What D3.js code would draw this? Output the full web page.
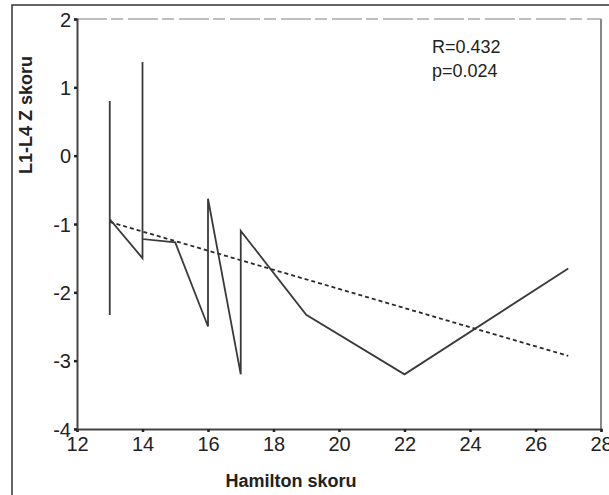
<!DOCTYPE html>
<html>
<head>
<meta charset="utf-8">
<script src="https://cdn.jsdelivr.net/npm/d3@7"></script>
<style>
  body { margin: 0; background: #fff; }
  text { font-family: "Liberation Sans", Arial, Helvetica, sans-serif; fill: #222; }
</style>
</head>
<body>
<script>
// ---- data ----
var hamilton = [13, 13, 13, 14, 14, 14, 15, 16, 16, 17, 17, 19, 22, 27];
var zScore   = [0.8, -2.33, -0.93, -1.5, 1.37, -1.22, -1.27, -2.5, -0.63, -3.2, -1.1, -2.33, -3.2, -1.65];
var fitX = [13, 27];
var fitY = [-0.97, -2.93];
var xTicks = [12, 14, 16, 18, 20, 22, 24, 26, 28];
var yTicks = [2, 1, 0, -1, -2, -3, -4];
var statLines = ["R=0.432", "p=0.024"];

var W = 609, H = 495;
var plotLeft = 77, plotRight = 601, plotTop = 19, plotBottom = 429;

var svg = d3.select("body").append("svg")
    .attr("width", W).attr("height", H);

// outer frame (top + left visible)
svg.append("path")
    .attr("d", "M12," + H + "V5H" + W)
    .attr("fill", "none").attr("stroke", "#333").attr("stroke-width", 1.5);

var x = d3.scaleLinear().domain([12, 28]).range([plotLeft, plotRight]);
var y = d3.scaleLinear().domain([-4, 2]).range([plotBottom, plotTop]);

// top + right plot borders (faint in the scan)
svg.append("line")
    .attr("x1", plotLeft).attr("x2", plotRight).attr("y1", plotTop).attr("y2", plotTop)
    .attr("stroke", "#aaa").attr("stroke-width", 1.5)
    .attr("stroke-dasharray", "30,4,12,5");
svg.append("line")
    .attr("x1", plotRight).attr("x2", plotRight).attr("y1", plotTop).attr("y2", plotBottom)
    .attr("stroke", "#888").attr("stroke-width", 2);

var xAxis = svg.append("g")
    .attr("transform", "translate(0," + plotBottom + ")")
    .call(d3.axisBottom(x).tickValues(xTicks).tickSize(3).tickPadding(5));
var yAxis = svg.append("g")
    .attr("transform", "translate(" + plotLeft + ",0)")
    .call(d3.axisLeft(y).tickValues(yTicks).tickSize(3).tickPadding(3)
        .tickFormat(function(d) { return d; }));

[xAxis, yAxis].forEach(function(g) {
    g.attr("font-size", null).attr("font-family", null);
    g.select(".domain").attr("stroke", "#444").attr("stroke-width", 2);
    g.selectAll(".tick line").attr("stroke", "#222").attr("stroke-width", 2.5);
    g.selectAll(".tick text")
        .style("font-size", "20px").attr("fill", "#222");
});
yAxis.selectAll(".tick text").attr("dy", "0.36em");

// regression line (dotted)
svg.append("line")
    .attr("x1", x(fitX[0])).attr("y1", y(fitY[0]))
    .attr("x2", x(fitX[1])).attr("y2", y(fitY[1]))
    .attr("stroke", "#2a2a2a").attr("stroke-width", 1.8)
    .attr("stroke-dasharray", "4,3");

// data line
var pts = hamilton.map(function(h, i) { return [h, zScore[i]]; });
var line = d3.line()
    .x(function(d) { return x(d[0]); })
    .y(function(d) { return y(d[1]); });
svg.append("path")
    .datum(pts)
    .attr("d", line)
    .attr("fill", "none")
    .attr("stroke", "#3a3a3a")
    .attr("stroke-width", 1.8)
    .attr("stroke-linejoin", "miter");

// stats annotation
svg.selectAll(".stat")
    .data(statLines)
    .enter().append("text")
    .attr("class", "stat")
    .attr("x", 432)
    .attr("y", function(d, i) { return 53 + i * 24; })
    .style("font-size", "18px")
    .text(function(d) { return d; });

// axis titles
svg.append("text")
    .attr("x", 291).attr("y", 487)
    .attr("text-anchor", "middle")
    .style("font-size", "18px").style("font-weight", "bold")
    .text("Hamilton skoru");

svg.append("text")
    .attr("transform", "translate(32,115) rotate(-90)")
    .attr("text-anchor", "middle")
    .style("font-size", "18px").style("font-weight", "bold")
    .text("L1-L4 Z skoru");
</script>
</body>
</html>
